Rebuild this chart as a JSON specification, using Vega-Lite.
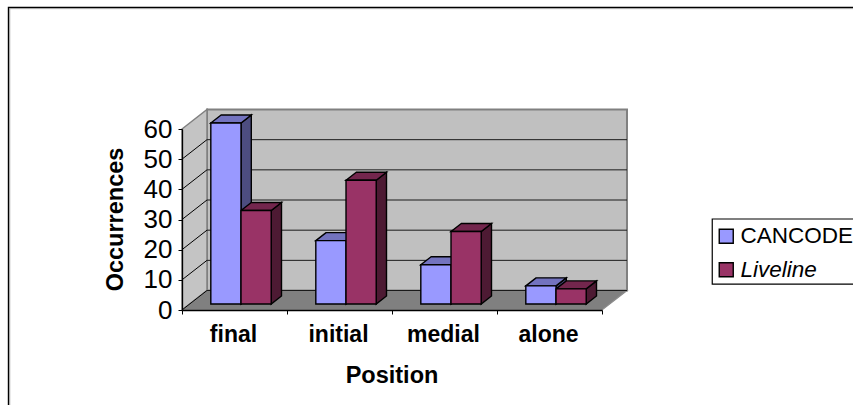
{
  "$schema": "https://vega.github.io/schema/vega-lite/v6.json",
  "width": 420,
  "height": 181,
  "autosize": "none",
  "padding": {"left": 182, "top": 129, "right": 251, "bottom": 95},
  "background": "white",
  "view": {"stroke": null},
  "config": {"font": "Liberation Sans"},
  "data": {"values": [{"panel": "chart"}]},
  "datasets": {
    "bars": [
      {"position": "final", "series": "CANCODE", "occurrences": 60},
      {"position": "final", "series": "Liveline", "occurrences": 31},
      {"position": "initial", "series": "CANCODE", "occurrences": 21},
      {"position": "initial", "series": "Liveline", "occurrences": 41},
      {"position": "medial", "series": "CANCODE", "occurrences": 13},
      {"position": "medial", "series": "Liveline", "occurrences": 24},
      {"position": "alone", "series": "CANCODE", "occurrences": 6},
      {"position": "alone", "series": "Liveline", "occurrences": 5}
    ],
    "ticks": [
      {"tick": 0}, {"tick": 10}, {"tick": 20}, {"tick": 30}, {"tick": 40}, {"tick": 50}
    ],
    "edges": [{"edge": 0}, {"edge": 1}]
  },
  "resolve": {"axis": {"x": "independent", "y": "independent"}},
  "layer": [
    {
      "mark": {"type": "rect", "filled": false, "stroke": "#000", "strokeWidth": 1.5},
      "encoding": {
        "x": {"datum": -1.652, "type": "quantitative", "scale": {"domain": [0, 4], "nice": false, "zero": false}, "axis": null},
        "x2": {"datum": 8},
        "y": {"datum": 100.3, "type": "quantitative", "scale": {"domain": [0, 60], "nice": false, "zero": false}, "axis": null},
        "y2": {"datum": -40}
      }
    },
    {
      "mark": {"type": "rect", "fill": "white", "stroke": "#000", "strokeWidth": 1.2},
      "encoding": {
        "x": {"datum": 5.05, "type": "quantitative", "axis": null},
        "x2": {"datum": 6.5},
        "y": {"datum": 30.16, "type": "quantitative", "axis": null},
        "y2": {"datum": 8.6}
      }
    },
    {
      "mark": {"type": "rect", "fill": "#C0C0C0", "stroke": "#808080", "strokeWidth": 2},
      "encoding": {
        "x": {"datum": 0.238, "type": "quantitative", "axis": null},
        "x2": {"datum": 4.238},
        "y": {"datum": 66.46, "type": "quantitative", "axis": null},
        "y2": {"datum": 6.46}
      }
    },
    {
      "data": {"name": "edges"},
      "transform": [
        {"calculate": "datum.edge * 0.238", "as": "ex"},
        {"calculate": "datum.edge * 6.46", "as": "ey0"},
        {"calculate": "60 + datum.edge * 6.46", "as": "ey1"}
      ],
      "mark": {"type": "area", "fill": "#C4C4C4", "stroke": "#808080", "strokeWidth": 1.5},
      "encoding": {
        "x": {"field": "ex", "type": "quantitative", "axis": null},
        "y": {"field": "ey1", "type": "quantitative", "axis": null},
        "y2": {"field": "ey0"}
      }
    },
    {
      "data": {"name": "edges"},
      "transform": [
        {"calculate": "datum.edge * 0.238", "as": "ex0"},
        {"calculate": "4 + datum.edge * 0.238", "as": "ex1"},
        {"calculate": "datum.edge * 6.46", "as": "ey"}
      ],
      "mark": {"type": "area", "orient": "horizontal", "fill": "#808080", "stroke": "#8c8c8c", "strokeWidth": 1.2},
      "encoding": {
        "x": {"field": "ex0", "type": "quantitative", "axis": null},
        "x2": {"field": "ex1"},
        "y": {"field": "ey", "type": "quantitative", "axis": null}
      }
    },
    {
      "data": {"name": "ticks"},
      "transform": [
        {"calculate": "datum.tick + 6.46", "as": "backY"}
      ],
      "mark": {"type": "rule", "stroke": "#1a1a1a", "strokeWidth": 1},
      "encoding": {
        "x": {"datum": 0.238, "type": "quantitative", "axis": null},
        "x2": {"datum": 4.238},
        "y": {"field": "backY", "type": "quantitative", "axis": null}
      }
    },
    {
      "data": {"name": "ticks"},
      "transform": [
        {"calculate": "datum.tick + 6.46", "as": "backY"}
      ],
      "mark": {"type": "rule", "stroke": "#000", "strokeWidth": 1},
      "encoding": {
        "x": {"datum": 0, "type": "quantitative", "axis": null},
        "x2": {"datum": 0.238},
        "y": {"field": "tick", "type": "quantitative", "axis": null},
        "y2": {"field": "backY"}
      }
    },
    {
      "data": {"name": "bars"},
      "transform": [
        {"calculate": "indexof(['final','initial','medial','alone'], datum.position) + 0.5 + (datum.series === 'CANCODE' ? -1 : 0) * 0.2876 + 0.062", "as": "left"},
        {"calculate": "datum.left + 0.2876", "as": "right"},
        {"calculate": "datum.position + datum.series", "as": "key"},
        {"calculate": "[0, 1]", "as": "edge"},
        {"flatten": ["edge"]},
        {"calculate": "datum.right + datum.edge * 0.098", "as": "sx"},
        {"calculate": "2 + datum.occurrences + datum.edge * 2.65", "as": "sTop"},
        {"calculate": "2 + datum.edge * 2.65", "as": "sBase"}
      ],
      "mark": {"type": "area", "stroke": "#000", "strokeWidth": 1.4},
      "encoding": {
        "x": {"field": "sx", "type": "quantitative", "axis": null},
        "y": {"field": "sTop", "type": "quantitative", "axis": null},
        "y2": {"field": "sBase"},
        "detail": {"field": "key"},
        "fill": {"condition": {"test": "datum.series === 'CANCODE'", "value": "#4D4D80"}, "value": "#4D1A33"}
      }
    },
    {
      "data": {"name": "bars"},
      "transform": [
        {"calculate": "indexof(['final','initial','medial','alone'], datum.position) + 0.5 + (datum.series === 'CANCODE' ? -1 : 0) * 0.2876 + 0.062", "as": "left"},
        {"calculate": "datum.position + datum.series", "as": "key"},
        {"calculate": "[0, 1]", "as": "edge"},
        {"flatten": ["edge"]},
        {"calculate": "datum.left + datum.edge * 0.098", "as": "tx0"},
        {"calculate": "datum.left + 0.2876 + datum.edge * 0.098", "as": "tx1"},
        {"calculate": "2 + datum.occurrences + datum.edge * 2.65", "as": "ty"}
      ],
      "mark": {"type": "area", "orient": "horizontal", "stroke": "#000", "strokeWidth": 1.4},
      "encoding": {
        "x": {"field": "tx0", "type": "quantitative", "axis": null},
        "x2": {"field": "tx1"},
        "y": {"field": "ty", "type": "quantitative", "axis": null},
        "detail": {"field": "key"},
        "fill": {"condition": {"test": "datum.series === 'CANCODE'", "value": "#7373BF"}, "value": "#73264D"}
      }
    },
    {
      "data": {"name": "bars"},
      "transform": [
        {"calculate": "indexof(['final','initial','medial','alone'], datum.position) + 0.5 + (datum.series === 'CANCODE' ? -1 : 0) * 0.2876 + 0.062", "as": "left"},
        {"calculate": "datum.left + 0.2876", "as": "right"},
        {"calculate": "2 + datum.occurrences", "as": "top"}
      ],
      "mark": {"type": "rect", "stroke": "#000", "strokeWidth": 1.4},
      "encoding": {
        "x": {"field": "left", "type": "quantitative", "axis": null},
        "x2": {"field": "right"},
        "y": {"field": "top", "type": "quantitative", "axis": null},
        "y2": {"datum": 2},
        "fill": {
          "field": "series", "type": "nominal",
          "scale": {"domain": ["CANCODE", "Liveline"], "range": ["#9999FF", "#993366"]},
          "legend": {
            "title": null, "orient": "none", "legendX": 530, "legendY": 90,
            "symbolType": "square", "symbolSize": 196, "symbolStrokeColor": "#000", "symbolStrokeWidth": 1.4, "symbolOffset": -3,
            "labelFont": "Liberation Sans", "labelFontSize": 22.5, "labelColor": "#000", "labelOffset": 3, "labelLimit": 200,
            "labelFontStyle": {"expr": "datum.label === 'Liveline' ? 'italic' : 'normal'"},
            "rowPadding": 10.5, "padding": 6
          }
        }
      }
    },
    {
      "data": {"name": "bars"},
      "transform": [
        {"filter": "datum.series === 'CANCODE'"},
        {"calculate": "indexof(['final','initial','medial','alone'], datum.position) + 0.5", "as": "mid"}
      ],
      "mark": {"type": "text", "font": "Liberation Sans", "fontSize": 23, "fontWeight": "bold", "fill": "#000", "align": "center", "baseline": "alphabetic", "dx": -1, "dy": 32},
      "encoding": {
        "x": {"field": "mid", "type": "quantitative", "axis": null},
        "y": {"datum": 0, "type": "quantitative", "axis": null},
        "text": {"field": "position"}
      }
    },
    {
      "mark": {"type": "rect", "filled": false, "stroke": "#a6a6a6", "strokeWidth": 1, "xOffset": 1.2, "yOffset": 1.2},
      "encoding": {
        "x": {
          "datum": -1.652, "type": "quantitative",
          "axis": {
            "values": [0, 1, 2, 3, 4], "labels": false, "grid": false, "ticks": true, "tickSize": 4,
            "tickColor": "#000", "domainColor": "#000", "domainWidth": 1.3, "tickWidth": 1, "zindex": 1,
            "title": "Position", "titleFont": "Liberation Sans", "titleFontSize": 23.5, "titleFontWeight": "bold",
            "titleColor": "#000", "titleX": 209.5, "titleY": 72, "titleBaseline": "alphabetic", "titleAlign": "center"
          }
        },
        "x2": {"datum": 8},
        "y": {
          "datum": 100.3, "type": "quantitative",
          "axis": {
            "values": [0, 10, 20, 30, 40, 50, 60], "grid": false, "tickSize": 4, "tickColor": "#000",
            "domainColor": "#000", "domainWidth": 1.3, "tickWidth": 1, "zindex": 1,
            "labelFont": "Liberation Sans", "labelFontSize": 26, "labelColor": "#000", "labelPadding": 6,
            "title": "Occurrences", "titleFont": "Liberation Sans", "titleFontSize": 23.5, "titleFontWeight": "bold",
            "titleColor": "#000", "titleX": -60, "titleY": 90, "titleBaseline": "alphabetic", "titleAlign": "center", "titleAngle": 270
          }
        },
        "y2": {"datum": -40}
      }
    }
  ]
}
